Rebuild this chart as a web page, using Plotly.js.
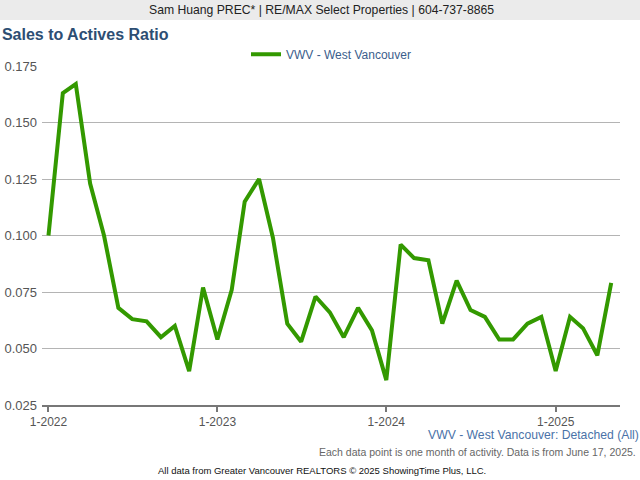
<!DOCTYPE html>
<html><head><meta charset="utf-8">
<script src="https://cdn.plot.ly/plotly-3.0.1.min.js"></script>
<style>html,body{margin:0;padding:0;background:#fff}#chart{width:640px;height:480px}</style>
</head><body><div id="chart"></div>
<script>
const months = [
 '2022-01-01','2022-02-01','2022-03-01','2022-04-01','2022-05-01','2022-06-01','2022-07-01','2022-08-01','2022-09-01','2022-10-01','2022-11-01','2022-12-01',
 '2023-01-01','2023-02-01','2023-03-01','2023-04-01','2023-05-01','2023-06-01','2023-07-01','2023-08-01','2023-09-01','2023-10-01','2023-11-01','2023-12-01',
 '2024-01-01','2024-02-01','2024-03-01','2024-04-01','2024-05-01','2024-06-01','2024-07-01','2024-08-01','2024-09-01','2024-10-01','2024-11-01','2024-12-01',
 '2025-01-01','2025-02-01','2025-03-01','2025-04-01','2025-05-01'];
const ratioWestVan = [
 0.100,0.163,0.167,0.123,0.100,0.068,0.063,0.062,0.055,0.060,0.040,0.077,
 0.054,0.076,0.115,0.125,0.099,0.061,0.053,0.073,0.066,0.055,0.068,0.058,
 0.036,0.096,0.090,0.089,0.061,0.080,0.067,0.064,0.054,0.054,0.061,0.064,
 0.040,0.064,0.059,0.047,0.079];
const tickVals = ['2022-01-01','2023-01-01','2024-01-01','2025-01-01'];
const tickText = ['1-2022','1-2023','1-2024','1-2025'];
const seriesName = 'VWV - West Vancouver';

const FONT = '"Liberation Sans", Arial, Helvetica, sans-serif';
const trace = {
  x: months, y: ratioWestVan, type: 'scatter', mode: 'lines', name: seriesName,
  line: {color: '#339900', width: 4}
};
const layout = {
  width: 640, height: 480,
  margin: {l: 42, r: 20, t: 66, b: 75},
  paper_bgcolor: '#ffffff', plot_bgcolor: '#ffffff',
  font: {family: FONT, size: 12, color: '#555'},
  title: {text: '<b>Sales to Actives Ratio</b>', x: 0.003, xref: 'container', xanchor: 'left',
          y: 0.929, yref: 'container', yanchor: 'middle',
          font: {family: FONT, size: 16, color: '#2d4e73'}},
  showlegend: true,
  legend: {orientation: 'h', x: 0.5, xanchor: 'center', y: 1.035, yanchor: 'middle', itemwidth: 30,
           font: {family: FONT, size: 12, color: '#3b5e8c'}, bgcolor: 'rgba(0,0,0,0)'},
  xaxis: {type: 'date', range: ['2021-12-18', '2025-05-20'],
          tickvals: tickVals, ticktext: tickText, ticks: 'outside', ticklen: 5, tickwidth: 2,
          tickcolor: '#777', showgrid: false, showline: true, linecolor: '#777', linewidth: 2,
          zeroline: false, tickfont: {family: FONT, size: 12, color: '#555'}, fixedrange: true},
  yaxis: {range: [0.025, 0.175], tickvals: [0.025,0.05,0.075,0.1,0.125,0.15,0.175],
          tickformat: '.3f', showgrid: true, gridcolor: '#b4b4b4', gridwidth: 1,
          zeroline: false, showline: false, ticks: '', ticklen: 0, ticklabelstandoff: 4,
          tickfont: {family: FONT, size: 13, color: '#555'}, fixedrange: true},
  shapes: [
    {type: 'rect', xref: 'paper', yref: 'paper', x0: -42/578, x1: 1 + 20/578,
     y0: 1 + 46/339, y1: 1 + 66/339, fillcolor: '#ebebeb', line: {width: 0}, layer: 'below'}
  ],
  annotations: [
    {text: 'Sam Huang PREC* | RE/MAX Select Properties | 604-737-8865', xref: 'paper', yref: 'paper',
     x: (321-42)/578, y: 1 + 56/339, xanchor: 'center', yanchor: 'middle', showarrow: false,
     font: {family: FONT, size: 12.2, color: '#222'}},
    {text: 'VWV - West Vancouver: Detached (All)', xref: 'paper', yref: 'paper',
     x: 1 + 21/578, y: -30/339, xanchor: 'right', yanchor: 'middle', showarrow: false,
     font: {family: FONT, size: 12.2, color: '#4a72a8'}},
    {text: 'Each data point is one month of activity. Data is from June 17, 2025.', xref: 'paper', yref: 'paper',
     x: 1 + 18/578, y: -47/339, xanchor: 'right', yanchor: 'middle', showarrow: false,
     font: {family: FONT, size: 10.5, color: '#666'}},
    {text: 'All data from Greater Vancouver REALTORS © 2025 ShowingTime Plus, LLC.', xref: 'paper', yref: 'paper',
     x: (322-42)/578, y: -65/339, xanchor: 'center', yanchor: 'middle', showarrow: false,
     font: {family: FONT, size: 9.5, color: '#111'}}
  ]
};
Plotly.newPlot('chart', [trace], layout, {displayModeBar: false, staticPlot: true});
</script></body></html>
